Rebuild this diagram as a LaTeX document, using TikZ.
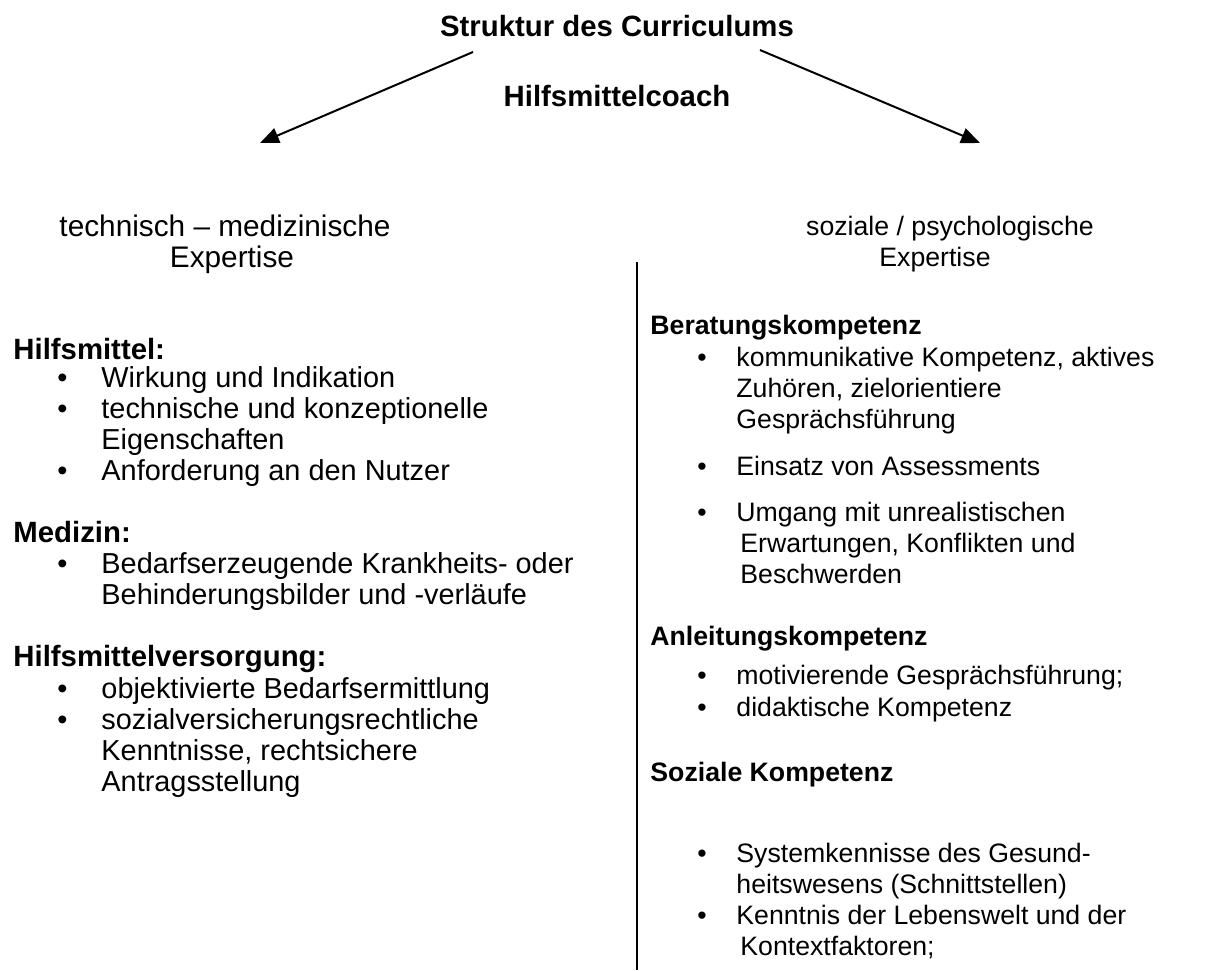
\documentclass[tikz,border=0pt]{standalone}
\usepackage{fontspec}
\setmainfont{Liberation Sans}
\usetikzlibrary{arrows.meta}
\begin{document}
\begin{tikzpicture}[x=0.45pt,y=-0.45pt,
  txt/.style={anchor=base west,inner sep=0pt,font=\fontsize{12}{14}\selectfont},
  hd/.style={anchor=base west,inner sep=0pt,font=\fontsize{12}{14}\selectfont\bfseries},
  ltxt/.style={anchor=base west,inner sep=0pt,font=\fontsize{13}{15}\selectfont},
  lhd/.style={anchor=base west,inner sep=0pt,font=\fontsize{13.2}{15}\selectfont\bfseries},
  ctr/.style={anchor=base,inner sep=0pt,font=\fontsize{12}{14}\selectfont},
  lctr/.style={anchor=base,inner sep=0pt,font=\fontsize{13.4}{15}\selectfont},
  ttl/.style={anchor=base,inner sep=0pt,font=\fontsize{13.2}{15}\selectfont\bfseries},
  arr/.style={line width=0.9pt,-{Triangle[length=8.5pt,width=7pt]}},
  sep/.style={line width=0.6pt}]
\useasboundingbox (0,0) rectangle (1212,970);
% title
\node[ttl] (title) at (617,36) {Struktur des Curriculums};
\node[ttl] (coach) at (617,106) {Hilfsmittelcoach};
\coordinate (la) at (473,52);
\coordinate (lb) at (260,143);
\coordinate (ra) at (760,50);
\coordinate (rb) at (980,143);
\draw[arr] (la) -- (lb);
\draw[arr] (ra) -- (rb);
% column headings
\node[lctr] (lh1) at (225,236) {technisch -- medizinische};
\node[lctr] (lh2) at (232,267) {Expertise};
\node[ctr] (rh1) at (950,235) {soziale / psychologische};
\node[ctr] (rh2) at (935,266) {Expertise};
% separator
\coordinate (st) at (637,262);
\coordinate (sb) at (637,970);
\draw[sep] (st) -- (sb);
% left column
\node[lhd] (h1) at (13,359) {Hilfsmittel:};
\node[ltxt] (b1) at (57,387) {•};
\node[ltxt] (t1) at (101,387) {Wirkung und Indikation};
\node[ltxt] (b2) at (57,418) {•};
\node[ltxt] (t2) at (101,418) {technische und konzeptionelle};
\node[ltxt] (t2b) at (101,449) {Eigenschaften};
\node[ltxt] (b3) at (57,480) {•};
\node[ltxt] (t3) at (101,480) {Anforderung an den Nutzer};
\node[lhd] (h2) at (13,542) {Medizin:};
\node[ltxt] (b4) at (57,573) {•};
\node[ltxt] (t4) at (101,573) {Bedarfserzeugende Krankheits- oder};
\node[ltxt] (t4b) at (101,604) {Behinderungsbilder und -verläufe};
\node[lhd] (h3) at (13,666) {Hilfsmittelversorgung:};
\node[ltxt] (b5) at (57,698) {•};
\node[ltxt] (t5) at (101,698) {objektivierte Bedarfsermittlung};
\node[ltxt] (b6) at (57,729) {•};
\node[ltxt] (t6) at (101,729) {sozialversicherungsrechtliche};
\node[ltxt] (t6b) at (101,760) {Kenntnisse, rechtsichere};
\node[ltxt] (t6c) at (101,791) {Antragsstellung};
% right column
\node[hd] (r1) at (650,334) {Beratungskompetenz};
\node[txt] (rb1) at (697,366) {•};
\node[txt] (s1) at (736,366) {kommunikative Kompetenz, aktives};
\node[txt] (s1b) at (736,397) {Zuhören, zielorientiere};
\node[txt] (s1c) at (736,428) {Gesprächsführung};
\node[txt] (rb2) at (697,475) {•};
\node[txt] (s2) at (736,475) {Einsatz von Assessments};
\node[txt] (rb3) at (697,521) {•};
\node[txt] (s3) at (736,521) {Umgang mit unrealistischen};
\node[txt] (s3b) at (740,552) {Erwartungen, Konflikten und};
\node[txt] (s3c) at (740,583) {Beschwerden};
\node[hd] (r2) at (650,645) {Anleitungskompetenz};
\node[txt] (rb4) at (697,684) {•};
\node[txt] (s4) at (736,684) {motivierende Gesprächsführung;};
\node[txt] (rb5) at (697,716) {•};
\node[txt] (s5) at (736,716) {didaktische Kompetenz};
\node[hd] (r3) at (650,781) {Soziale Kompetenz};
\node[txt] (rb6) at (697,862) {•};
\node[txt] (s6) at (736,862) {Systemkennisse des Gesund-};
\node[txt] (s6b) at (736,893) {heitswesens (Schnittstellen)};
\node[txt] (rb7) at (697,924) {•};
\node[txt] (s7) at (736,924) {Kenntnis der Lebenswelt und der};
\node[txt] (s7b) at (740,955) {Kontextfaktoren;};
\end{tikzpicture}
\end{document}
